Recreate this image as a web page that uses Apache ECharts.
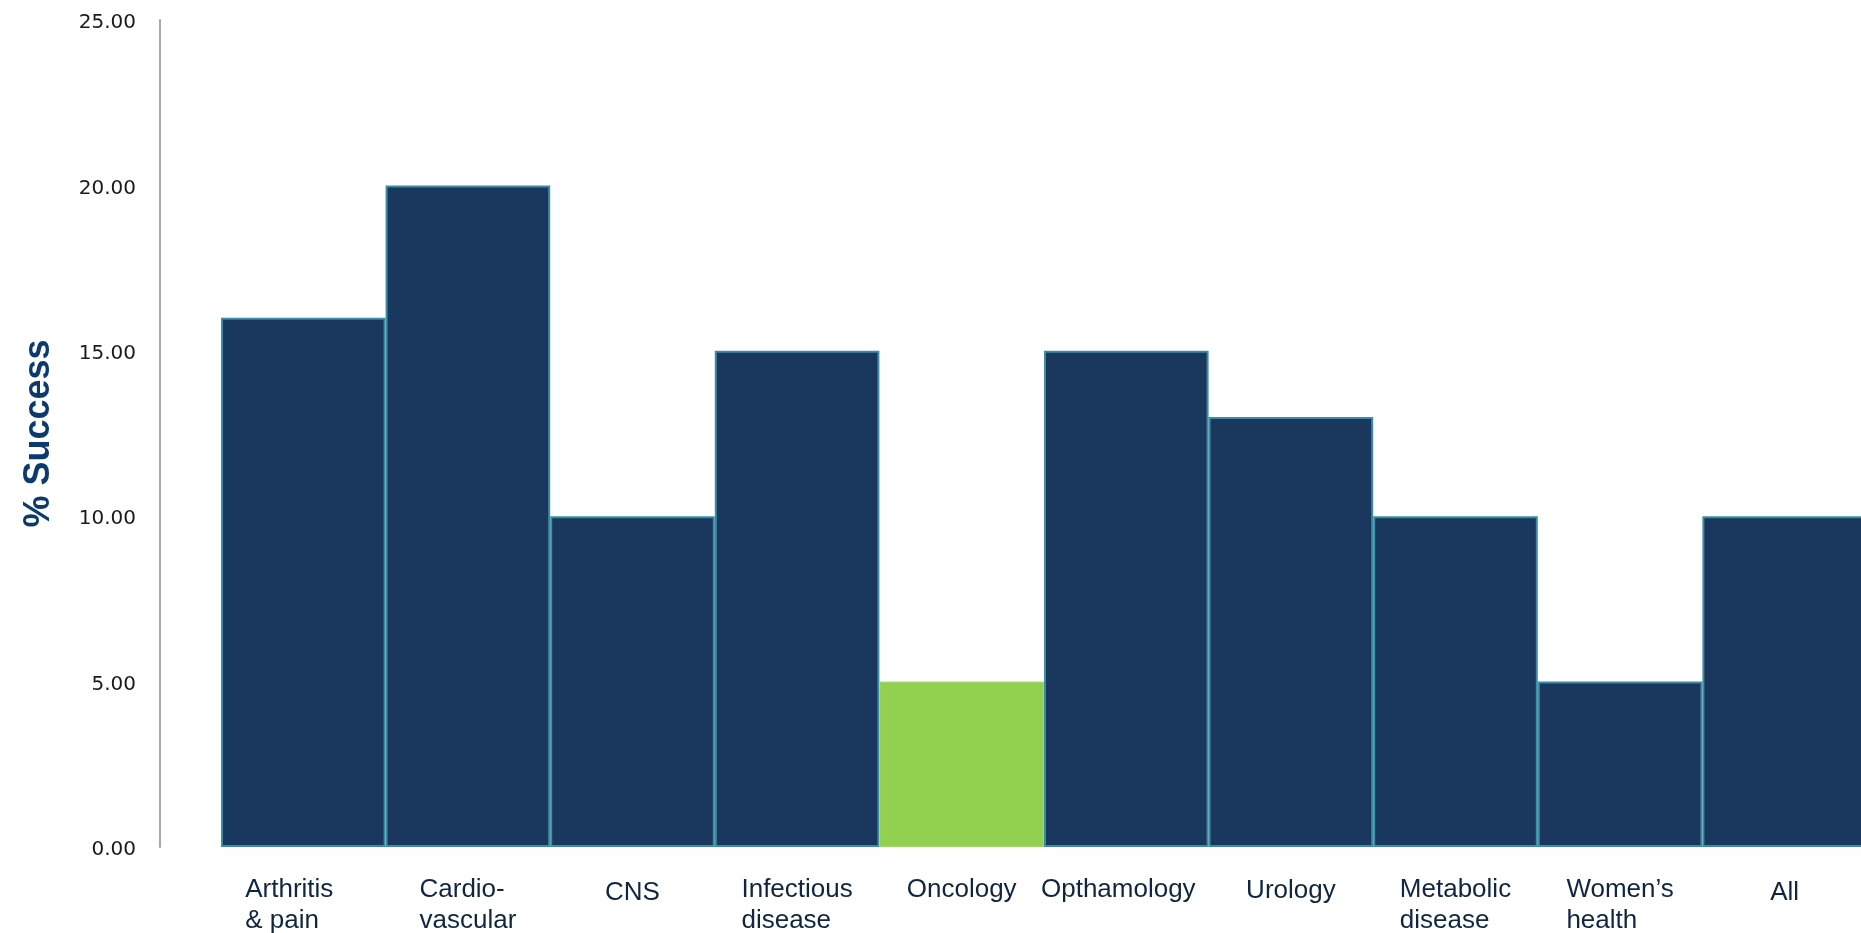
<!DOCTYPE html>
<html>
<head>
<meta charset="utf-8">
<title>% Success by therapeutic area</title>
<script src="https://cdn.jsdelivr.net/npm/echarts@6/dist/echarts.min.js"></script>
<style>
  html, body { margin: 0; padding: 0; background: #ffffff; }
  #chart { width: 1861px; height: 933px; }
</style>
</head>
<body>
<div id="chart"></div>
<script>
// Therapeutic areas (line breaks as printed under each bar)
const categories = [
  'Arthritis\n& pain',
  'Cardio-\nvascular',
  'CNS',
  'Infectious\ndisease',
  'Oncology',
  'Opthamology',
  'Urology',
  'Metabolic\ndisease',
  'Women\u2019s\nhealth',
  'All'
];

// Success rate per area, in percent
const successRates = [16, 20, 10, 15, 5, 15, 13, 10, 5, 10];

// Value axis range and step
const yMin = 0;
const yMax = 25;
const yStep = 5;

// Area drawn in the accent colour
const highlighted = 'Oncology';

const NAVY = '#1a375d';
const EDGE = '#3d8ca5';
const GREEN = '#92d050';
const LABEL_INK = '#0f2540';

// small hand placement of some category labels (px down / px sideways)
const labelDrop = { 'CNS': 7, 'Urology': 3, 'All': 7 };
const labelShift = { 'Arthritis\n& pain': -14, 'Opthamology': -8 };

const baseLabel = {
  align: 'left',
  fontFamily: '"Liberation Sans", Arial, sans-serif',
  fontSize: 26,
  lineHeight: 31,
  color: LABEL_INK
};
const richStyles = {};
categories.forEach(function (name, i) {
  const drop = labelDrop[name] || 0;
  const shift = labelShift[name] || 0;
  richStyles['c' + i] = Object.assign({}, baseLabel, {
    padding: [drop, Math.max(0, -2 * shift), 0, Math.max(0, 2 * shift)]
  });
});

const chart = echarts.init(document.getElementById('chart'), null, { renderer: 'canvas' });

const option = {
  backgroundColor: '#ffffff',
  animation: false,
  grid: {
    left: 221,
    top: 20,
    bottom: 86,
    width: 1646,
    containLabel: false,
    outerBoundsMode: 'none'
  },
  xAxis: {
    type: 'category',
    data: categories,
    boundaryGap: true,
    axisLine: { show: false },
    axisTick: { show: false },
    splitLine: { show: false },
    axisLabel: {
      interval: 0,
      hideOverlap: false,
      margin: 27,
      align: 'center',
      verticalAlign: 'top',
      formatter: function (value, index) {
        return value.split('\n').map(function (line) {
          return '{c' + index + '|' + line + '}';
        }).join('\n');
      },
      rich: richStyles
    }
  },
  yAxis: {
    type: 'value',
    min: yMin,
    max: yMax,
    interval: yStep,
    offset: 61,
    name: '% Success',
    nameLocation: 'middle',
    nameRotate: 90,
    nameGap: 103,
    nameTextStyle: {
      fontFamily: '"Liberation Sans", Arial, sans-serif',
      fontWeight: 'bold',
      fontSize: 36,
      color: '#0d3a6e'
    },
    axisLine: { show: true, lineStyle: { color: '#a8a8a8', width: 2 } },
    axisTick: { show: false },
    splitLine: { show: false },
    axisLabel: {
      margin: 24,
      formatter: function (v) { return '{v|' + v.toFixed(2) + '}'; },
      rich: {
        v: {
          fontFamily: '"DejaVu Sans", sans-serif',
          fontSize: 20,
          color: '#1a1a1a',
          padding: [6, 0, 0, 0]
        }
      }
    }
  },
  series: [{
    type: 'bar',
    barCategoryGap: 0,
    data: successRates.map(function (v, i) {
      const isAccent = categories[i] === highlighted;
      return {
        value: v,
        itemStyle: {
          color: isAccent ? GREEN : NAVY,
          borderColor: isAccent ? '#9fd66a' : EDGE,
          borderWidth: isAccent ? 1 : 2
        }
      };
    }),
    label: { show: false }
  }]
};

chart.setOption(option);
</script>
</body>
</html>
